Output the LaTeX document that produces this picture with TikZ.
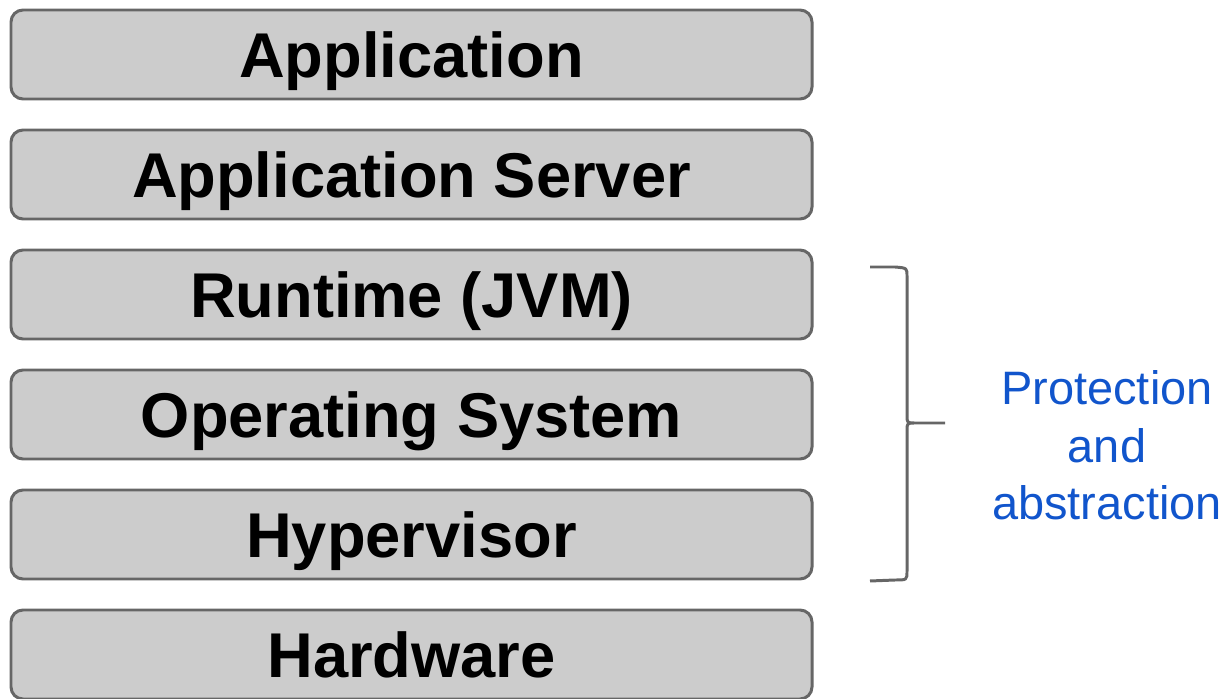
\documentclass[tikz,border=0pt]{standalone}
\usepackage{fontspec}
\setmainfont{Liberation Sans}
\definecolor{layerfill}{HTML}{CCCCCC}
\definecolor{layerline}{HTML}{666666}
\definecolor{noteblue}{HTML}{1155CC}
\begin{document}
\begin{tikzpicture}[
        layer/.style={rectangle, rounded corners=0.24cm, draw=layerline, fill=layerfill,
            line width=1.7pt, minimum width=16.02cm, minimum height=1.78cm,
            text height=25.8pt, text depth=0pt,
            font=\fontsize{36}{43}\selectfont\bfseries}
    ]
        \useasboundingbox (0,0) rectangle (24.56,-13.98);

        % Layers
        \node (app) [layer] at (8.23, -1.09) {Application};
        \node (server) [layer] at (8.23, -3.49) {Application Server};
        \node (jvm) [layer] at (8.23, -5.89) {Runtime (JVM)};
        \node (os) [layer] at (8.23, -8.29) {Operating System};
        \node (hyp) [layer] at (8.23, -10.69) {Hypervisor};
        \node (hw) [layer] at (8.23, -13.09) {Hardware};

        % Brace
        \draw[layerline, line width=1.7pt, line join=round]
            (17.40,-5.34) -- (17.90,-5.34) .. controls (18.14,-5.36) .. (18.14,-5.52)
            -- (18.14,-8.30) .. controls (18.14,-8.46) .. (18.30,-8.46) -- (18.90,-8.46)
            (18.30,-8.46) .. controls (18.14,-8.46) .. (18.14,-8.62)
            -- (18.14,-11.42) .. controls (18.14,-11.60) .. (17.90,-11.60) -- (17.40,-11.62);

        % Label
        \node (note) [align=center, text=noteblue, font=\fontsize{26.7}{32.7}\selectfont]
            at (22.14, -8.91) {Protection\\and\\abstraction};
    \end{tikzpicture}
\end{document}
